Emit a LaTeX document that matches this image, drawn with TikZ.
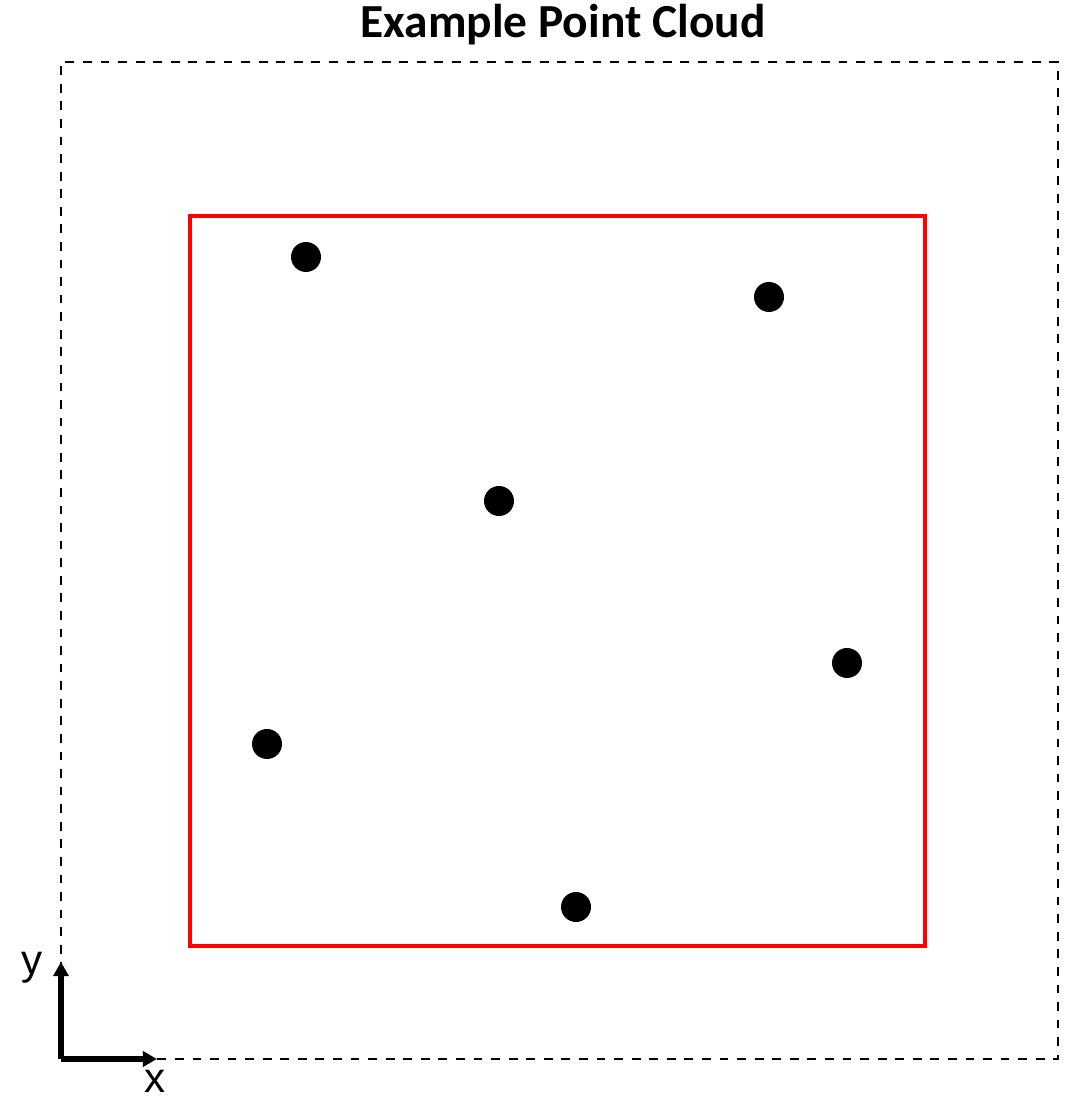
\documentclass[tikz,border=0pt]{standalone}
\usepackage{fontspec}
\setmainfont{Liberation Sans}
\newfontfamily\titlefont{Carlito}
\usetikzlibrary{arrows.meta}
\begin{document}
\begin{tikzpicture}[x=0.02cm, y=0.02cm]
\useasboundingbox (0,0) rectangle (1074,1101);
\node[font=\titlefont\bfseries\fontsize{27}{31}\selectfont] (title) at (563,1076){Example Point Cloud};
\draw[dash pattern=on 5pt off 5pt, line width=1.3pt] (61,42) rectangle (1058,1039);
\draw[red, line width=2.2pt] (190,155) rectangle (925,885);
\node[circle, minimum size=0.6cm, inner sep=0, fill] (pt0) at (306,844){};
\node[circle, minimum size=0.6cm, inner sep=0, fill] (pt1) at (769,804){};
\node[circle, minimum size=0.6cm, inner sep=0, fill] (pt2) at (499,600){};
\node[circle, minimum size=0.6cm, inner sep=0, fill] (pt3) at (847,438){};
\node[circle, minimum size=0.6cm, inner sep=0, fill] (pt4) at (267,357){};
\node[circle, minimum size=0.6cm, inner sep=0, fill] (pt5) at (576,194){};
\coordinate (orig) at (61,42);
\coordinate (xend) at (157,42);
\coordinate (yend) at (61,139);
\draw[-{Triangle[length=8pt,width=8.5pt]}, line width=3pt] (orig) -- (xend);
\draw[-{Triangle[length=8pt,width=8.5pt]}, line width=3pt] (orig) -- (yend);
\node[font=\fontsize{24}{28}\selectfont, inner sep=1pt] (xlab) at (155,20){x};
\node[font=\fontsize{24}{28}\selectfont, inner sep=1pt] (ylab) at (32,133){y};

\end{tikzpicture}
\end{document}
